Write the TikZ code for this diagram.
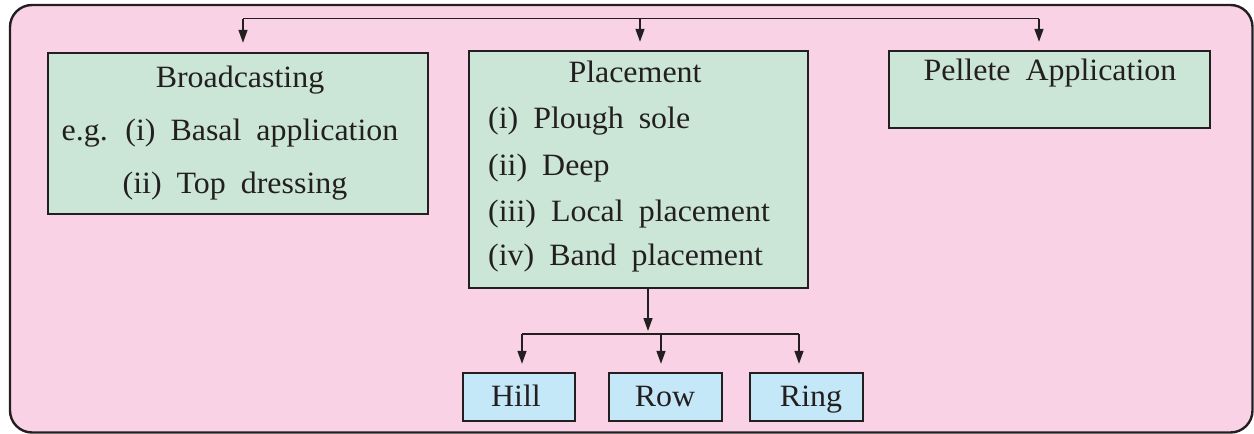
\documentclass[tikz,border=0pt]{standalone}
\usepackage{fontspec}
\setmainfont{Liberation Serif}[FakeStretch=1.03]
\usetikzlibrary{arrows.meta}
\definecolor{bgpink}{RGB}{249,211,229}
\definecolor{boxgreen}{RGB}{203,229,214}
\definecolor{boxblue}{RGB}{197,232,248}
\definecolor{inkc}{RGB}{35,31,32}
\newcommand\diagfont{\fontsize{31}{36}\selectfont\spaceskip 15pt\relax}
\tikzset{
  gbox/.style={draw=inkc, line width=2.4pt, fill=boxgreen, inner sep=0pt},
  bbox/.style={draw=inkc, line width=2.4pt, fill=boxblue, inner sep=0pt, minimum width=112pt, minimum height=48pt},
  txt/.style={inner sep=0pt, anchor=base, text=inkc, font=\diagfont},
  txtl/.style={txt, anchor=base west},
  conn/.style={draw=inkc, line width=1.4pt},
  arr/.style={conn, -{Triangle[length=13pt,width=9pt]}}
}
\begin{document}
\begin{tikzpicture}[x=1pt,y=-1pt]
\useasboundingbox (0,0) rectangle (1254,434);
\draw[draw=inkc, line width=2.4pt, fill=bgpink, rounded corners=22pt] (10,5) rectangle (1252.5,432.5);

% boxes
\node[gbox, minimum width=380pt, minimum height=161pt] (bc) at (238,133.5) {};
\node[gbox, minimum width=339pt, minimum height=237pt] (pl) at (638.5,169.5) {};
\node[gbox, minimum width=321pt, minimum height=77pt] (pe) at (1049.5,89.5) {};
\node[bbox] (hill) at (519,397) {};
\node[bbox, minimum width=113pt] (row) at (665.5,397) {};
\node[bbox, minimum width=113pt] (ring) at (806.5,397) {};

% texts
\node[txt] (t1) at (240,87) {Broadcasting};
\node[txt] (t2) at (230,140) {e.g. (i) Basal application};
\node[txt] (t3) at (235,193) {(ii) Top dressing};
\node[txt] (t4) at (635,82) {Placement};
\node[txtl] (t5) at (488,128) {(i) Plough sole};
\node[txtl] (t6) at (488,175) {(ii) Deep};
\node[txtl] (t7) at (488,221) {(iii) Local placement};
\node[txtl] (t8) at (488,265) {(iv) Band placement};
\node[txt] (t9) at (1050,80) {Pellete Application};
\node[txt] (t10) at (516,406) {Hill};
\node[txt] (t11) at (665,406) {Row};
\node[txt] (t12) at (811,406) {Ring};

% top connectors
\coordinate (ta) at (243,18.7);
\coordinate (tb) at (640,18.7);
\coordinate (tc) at (1039,18.7);
\draw[conn] (ta) -- (tc);
\draw[arr, shorten >=9pt] (ta) -- (ta |- bc.north);
\draw[arr, shorten >=8pt] (tb) -- (tb |- pl.north);
\draw[arr, shorten >=8pt] (tc) -- (tc |- pe.north);

% bottom connectors
\coordinate (bj) at (648,334);
\coordinate (ba) at (522,334);
\coordinate (bb) at (661,334);
\coordinate (bc2) at (799,334);
\draw[arr, shorten >=3pt] (pl.south -| bj) -- (bj);
\draw[conn] (ba) -- (bc2);
\draw[arr, shorten >=8pt] (ba) -- (ba |- hill.north);
\draw[arr, shorten >=8pt] (bb) -- (bb |- row.north);
\draw[arr, shorten >=8pt] (bc2) -- (bc2 |- ring.north);
\end{tikzpicture}
\end{document}
